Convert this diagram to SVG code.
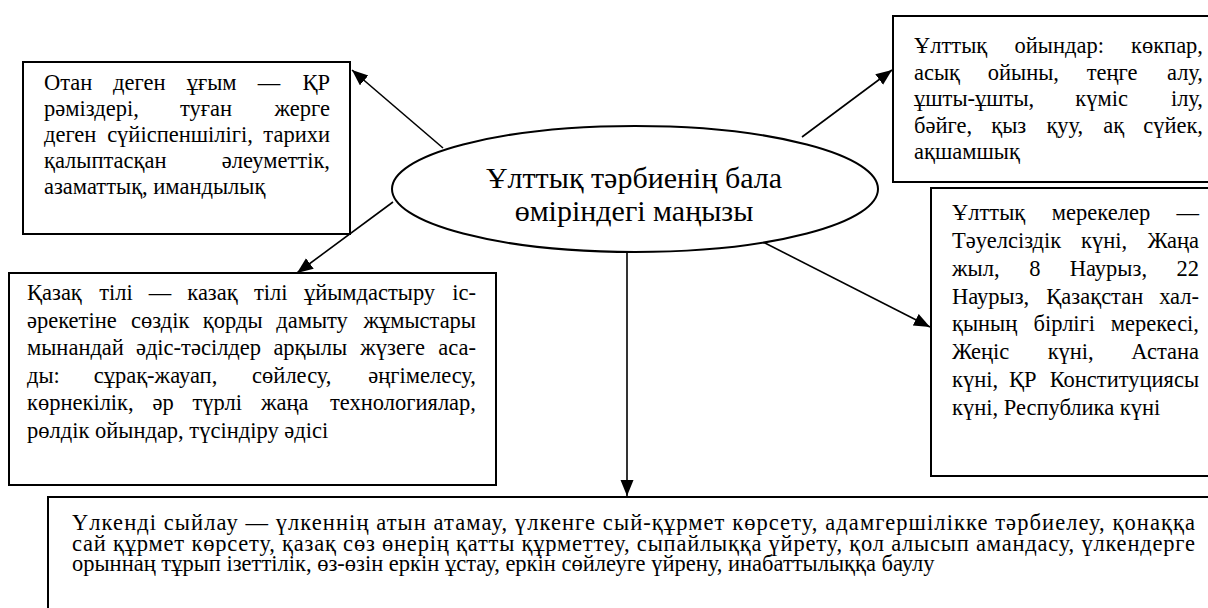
<svg xmlns="http://www.w3.org/2000/svg" width="1208" height="608" viewBox="0 0 1208 608">
<style>
.box{fill:#fff;stroke:#000;stroke-width:2}
.t{font-family:"Liberation Serif","Times New Roman",serif;font-size:22.5px;fill:#000}
.c{font-family:"Liberation Serif","Times New Roman",serif;font-size:30px;fill:#000;text-anchor:middle}
.m{text-anchor:middle}
.e{text-anchor:end}
.ln{stroke:#000;stroke-width:1.6;fill:none;marker-end:url(#ah)}
</style>
<defs>
<marker id="ah" markerUnits="userSpaceOnUse" markerWidth="18" markerHeight="14" refX="16" refY="6.5" orient="auto">
<path d="M0,0 L16,6.5 L0,13 z" fill="#000"/>
</marker>
</defs>
<rect width="1208" height="608" fill="#fff"/>

<g id="connectors">
<line class="ln" x1="443" y1="148" x2="352" y2="70"/>
<line class="ln" x1="393" y1="202" x2="297" y2="273"/>
<line class="ln" x1="802" y1="137" x2="892" y2="70"/>
<line class="ln" x1="763" y1="242" x2="930" y2="327"/>
<line class="ln" x1="627" y1="252" x2="627" y2="496"/>
</g>

<g id="node-center">
<ellipse cx="635" cy="189" rx="243" ry="63" fill="#fff" stroke="#000" stroke-width="2"/>
<text class="c" x="634" y="188">Ұлттық тәрбиенің бала</text>
<text class="c" x="634" y="221">өміріндегі маңызы</text>
</g>

<g id="node-otan">
<rect class="box" x="23" y="62" width="327" height="172"/>
<text class="t" x="44" y="90">Отан</text>
<text class="t m" x="139.3" y="90">деген</text>
<text class="t m" x="211.6" y="90">ұғым</text>
<text class="t m" x="269" y="90">—</text>
<text class="t e" x="330" y="90">ҚР</text>
<text class="t" x="44" y="116">рәміздері,</text>
<text class="t m" x="205.9" y="116">туған</text>
<text class="t e" x="330" y="116">жерге</text>
<text class="t" x="44" y="142">деген</text>
<text class="t m" x="180" y="142">сүйіспеншілігі,</text>
<text class="t e" x="330" y="142">тарихи</text>
<text class="t" x="44" y="168">қалыптасқан</text>
<text class="t e" x="330" y="168">әлеуметтік,</text>
<text class="t" x="44" y="194">азаматтық, имандылық</text>
</g>

<g id="node-oiyndar">
<rect class="box" x="893" y="16" width="330" height="166"/>
<text class="t" x="914" y="53">Ұлттық</text>
<text class="t m" x="1059.2" y="53">ойындар:</text>
<text class="t e" x="1203" y="53">көкпар,</text>
<text class="t" x="914" y="79.5">асық</text>
<text class="t m" x="1023.4" y="79.5">ойыны,</text>
<text class="t m" x="1112.1" y="79.5">теңге</text>
<text class="t e" x="1203" y="79.5">алу,</text>
<text class="t" x="914" y="106">ұшты-ұшты,</text>
<text class="t m" x="1101.7" y="106">күміс</text>
<text class="t e" x="1203" y="106">ілу,</text>
<text class="t" x="914" y="132.5">бәйге,</text>
<text class="t m" x="1008.7" y="132.5">қыз</text>
<text class="t m" x="1064.8" y="132.5">қуу,</text>
<text class="t m" x="1113.8" y="132.5">ақ</text>
<text class="t e" x="1203" y="132.5">сүйек,</text>
<text class="t" x="914" y="159">ақшамшық</text>
</g>

<g id="node-kazak-tili">
<rect class="box" x="9" y="273" width="487" height="212"/>
<text class="t" x="27" y="300">Қазақ</text>
<text class="t m" x="116" y="300">тілі</text>
<text class="t m" x="160" y="300">—</text>
<text class="t m" x="212.5" y="300">казақ</text>
<text class="t m" x="270.7" y="300">тілі</text>
<text class="t m" x="369.5" y="300">ұйымдастыру</text>
<text class="t e" x="476" y="300">іс-</text>
<text class="t" x="27" y="327.5">әрекетіне</text>
<text class="t m" x="160.2" y="327.5">сөздік</text>
<text class="t m" x="232.7" y="327.5">қорды</text>
<text class="t m" x="312" y="327.5">дамыту</text>
<text class="t e" x="476" y="327.5">жұмыстары</text>
<text class="t" x="27" y="355">мынандай</text>
<text class="t m" x="198.5" y="355">әдіс-тәсілдер</text>
<text class="t m" x="310.2" y="355">арқылы</text>
<text class="t m" x="392.6" y="355">жүзеге</text>
<text class="t e" x="476" y="355">аса-</text>
<text class="t" x="27" y="382.5">ды:</text>
<text class="t m" x="155.5" y="382.5">сұрақ-жауап,</text>
<text class="t m" x="291.8" y="382.5">сөйлесу,</text>
<text class="t e" x="476" y="382.5">әңгімелесу,</text>
<text class="t" x="27" y="410">көрнекілік,</text>
<text class="t m" x="163.2" y="410">әр</text>
<text class="t m" x="217.3" y="410">түрлі</text>
<text class="t m" x="284.8" y="410">жаңа</text>
<text class="t e" x="476" y="410">технологиялар,</text>
<text class="t" x="27" y="437.5">рөлдік ойындар, түсіндіру әдісі</text>
</g>

<g id="node-merekeler">
<rect class="box" x="931" y="188" width="300" height="288"/>
<text class="t" x="952" y="220">Ұлттық</text>
<text class="t m" x="1101" y="220">мерекелер</text>
<text class="t e" x="1199" y="220">—</text>
<text class="t" x="952" y="248">Тәуелсіздік</text>
<text class="t m" x="1104.1" y="248">күні,</text>
<text class="t e" x="1199" y="248">Жаңа</text>
<text class="t" x="952" y="276">жыл,</text>
<text class="t m" x="1034.8" y="276">8</text>
<text class="t m" x="1108.4" y="276">Наурыз,</text>
<text class="t e" x="1199" y="276">22</text>
<text class="t" x="952" y="304">Наурыз,</text>
<text class="t m" x="1094.8" y="304">Қазақстан</text>
<text class="t e" x="1199" y="304">хал-</text>
<text class="t" x="952" y="331">қының</text>
<text class="t m" x="1064.3" y="331">бірлігі</text>
<text class="t e" x="1199" y="331">мерекесі,</text>
<text class="t" x="952" y="359">Жеңіс</text>
<text class="t m" x="1070.7" y="359">күні,</text>
<text class="t e" x="1199" y="359">Астана</text>
<text class="t" x="952" y="387">күні,</text>
<text class="t m" x="1022.7" y="387">ҚР</text>
<text class="t e" x="1199" y="387">Конституциясы</text>
<text class="t" x="952" y="415">күні, Республика күні</text>
</g>

<g id="node-ulkendi">
<rect class="box" x="48" y="497" width="1180" height="140"/>
<text class="t" x="72" y="530" textLength="1123" lengthAdjust="spacing">Үлкенді сыйлау — үлкеннің атын атамау, үлкенге сый-құрмет көрсету, адамгершілікке тәрбиелеу, қонаққа</text>
<text class="t" x="72" y="550.5" textLength="1123" lengthAdjust="spacing">сай құрмет көрсету, қазақ сөз өнерің қатты құрметтеу, сыпайлыққа үйрету, қол алысып амандасу, үлкендерге</text>
<text class="t" x="72" y="571">орыннаң тұрып ізеттілік, өз-өзін еркін ұстау, еркін сөйлеуге үйрену, инабаттылыққа баулу</text>
</g>
</svg>
